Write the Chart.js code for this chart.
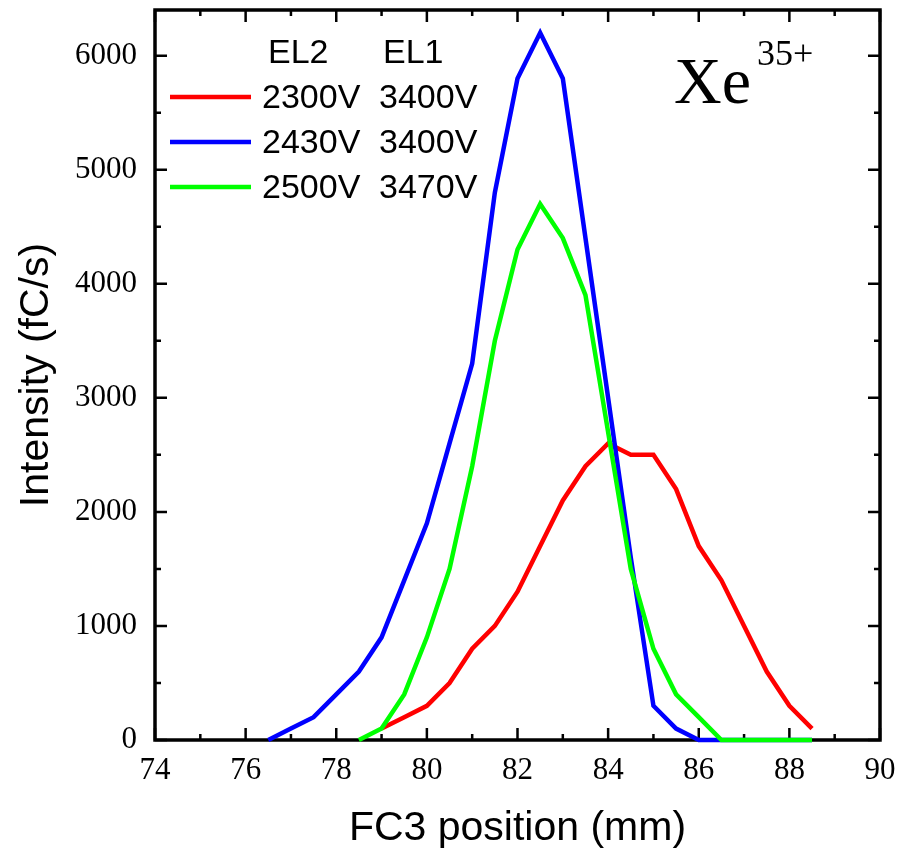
<!DOCTYPE html>
<html>
<head>
<meta charset="utf-8">
<script src="https://cdn.jsdelivr.net/npm/chart.js@4.4.1/dist/chart.umd.min.js"></script>
<style>
  html, body { margin: 0; padding: 0; background: #fff; }
</style>
</head>
<body>
<canvas id="scanChart" width="903" height="854"></canvas>
<script>
// FC3 position (mm) / intensity (fC/s)
const redX   = [79, 79.5, 80, 80.5, 81, 81.5, 82, 82.5, 83, 83.5, 84, 84.5, 85, 85.5, 86, 86.5, 87, 87.5, 88, 88.5];
const redY   = [100, 200, 300, 500, 800, 1000, 1300, 1700, 2100, 2400, 2600, 2500, 2500, 2200, 1700, 1400, 1000, 600, 300, 100];

const blueX  = [76.5, 77, 77.5, 78, 78.5, 79, 79.5, 80, 80.5, 81, 81.5, 82, 82.5, 83, 83.5, 84, 84.5, 85, 85.5, 86, 86.5, 87, 87.5, 88, 88.5];
const blueY  = [0, 100, 200, 400, 600, 900, 1400, 1900, 2600, 3300, 4800, 5800, 6200, 5800, 4400, 3000, 1600, 300, 100, 0, 0, 0, 0, 0, 0];

const greenX = [78.5, 79, 79.5, 80, 80.5, 81, 81.5, 82, 82.5, 83, 83.5, 84, 84.5, 85, 85.5, 86, 86.5, 87, 87.5, 88, 88.5];
const greenY = [0, 100, 400, 900, 1500, 2400, 3500, 4300, 4700, 4400, 3900, 2700, 1500, 800, 400, 200, 0, 0, 0, 0, 0];

const el2Labels = ['2300V', '2430V', '2500V'];
const el1Labels = ['3400V', '3400V', '3470V'];
const legendHeader = ['EL2', 'EL1'];

const xTicks = [74, 76, 78, 80, 82, 84, 86, 88, 90];
const yTicks = [0, 1000, 2000, 3000, 4000, 5000, 6000];
const xMin = 74, xMax = 90;
const yMin = 0, yMax = 6400;

function toPoints(xs, ys) {
    return xs.map((x, i) => ({ x: x, y: ys[i] }));
}

// frame + inward ticks on all four sides (minor ticks halfway between majors)
const framePlugin = {
    id: 'frame',
    beforeDatasetsDraw(chart) {
        const { ctx, chartArea: a, scales: { x, y } } = chart;
        ctx.save();
        ctx.strokeStyle = '#000';
        ctx.lineWidth = 2.5;
        ctx.beginPath();
        xTicks.forEach((v, i) => {
            const marks = [[v, 12]];
            if (i < xTicks.length - 1) marks.push([(v + xTicks[i + 1]) / 2, 6]);
            marks.forEach(([val, len]) => {
                const px = x.getPixelForValue(val);
                ctx.moveTo(px, a.bottom); ctx.lineTo(px, a.bottom - len);
                ctx.moveTo(px, a.top); ctx.lineTo(px, a.top + len);
            });
        });
        yTicks.forEach((v) => {
            [[v, 12], [v + 500, 6]].forEach(([val, len]) => {
                if (val > yMax) return;
                const py = y.getPixelForValue(val);
                ctx.moveTo(a.left, py); ctx.lineTo(a.left + len, py);
                ctx.moveTo(a.right, py); ctx.lineTo(a.right - len, py);
            });
        });
        ctx.stroke();
        ctx.lineWidth = 3.5;
        ctx.strokeRect(a.left, a.top, a.right - a.left, a.bottom - a.top);
        ctx.restore();
    }
};

// two-column legend and the ion label
const notesPlugin = {
    id: 'notes',
    afterDraw(chart) {
        const ctx = chart.ctx;
        ctx.save();
        ctx.fillStyle = '#000';
        ctx.textBaseline = 'alphabetic';
        ctx.font = '34px "Liberation Sans", Arial, sans-serif';
        ctx.fillText(legendHeader[0], 268, 63);
        ctx.fillText(legendHeader[1], 383, 63);
        chart.data.datasets.forEach((ds, i) => {
            const base = 108 + i * 45;
            ctx.strokeStyle = ds.borderColor;
            ctx.lineWidth = 4.5;
            ctx.beginPath();
            ctx.moveTo(170, base - 11);
            ctx.lineTo(251, base - 11);
            ctx.stroke();
            ctx.fillText(el2Labels[i], 262, base);
            ctx.fillText(el1Labels[i], 379, base);
        });
        ctx.font = '66px "Liberation Serif", "Times New Roman", serif';
        ctx.fillText('Xe', 674, 103);
        ctx.font = '36px "Liberation Serif", "Times New Roman", serif';
        ctx.fillText('35+', 757, 65);
        ctx.restore();
    }
};

const tickFont = { family: '"Liberation Serif", "Times New Roman", serif', size: 31 };
const titleFont = { family: '"Liberation Sans", Arial, sans-serif', size: 41 };

new Chart(document.getElementById('scanChart'), {
    type: 'line',
    data: {
        datasets: [
            { label: el2Labels[0] + ' ' + el1Labels[0], data: toPoints(redX, redY), borderColor: '#ff0000', order: 3 },
            { label: el2Labels[1] + ' ' + el1Labels[1], data: toPoints(blueX, blueY), borderColor: '#0000ff', order: 2 },
            { label: el2Labels[2] + ' ' + el1Labels[2], data: toPoints(greenX, greenY), borderColor: '#00ff00', order: 1 }
        ]
    },
    options: {
        responsive: false,
        animation: false,
        devicePixelRatio: 1,
        layout: { padding: { left: 0, top: 10, right: 23, bottom: 0 } },
        elements: {
            line: { borderWidth: 4.5, tension: 0, borderJoinStyle: 'miter', fill: false },
            point: { radius: 0 }
        },
        datasets: { line: { clip: false } },
        plugins: { legend: { display: false }, tooltip: { enabled: false } },
        scales: {
            x: {
                type: 'linear',
                min: xMin, max: xMax,
                grid: { display: false, drawTicks: false },
                border: { display: false },
                afterBuildTicks(s) { s.ticks = xTicks.map(v => ({ value: v })); },
                ticks: { color: '#000', font: tickFont, padding: 12, callback: v => String(v) },
                title: { display: true, text: 'FC3 position (mm)', color: '#000', font: titleFont, padding: { top: 0, bottom: 1 } },
                afterFit(s) { s.height = 114; s.paddingLeft = 0; s.paddingRight = 0; }
            },
            y: {
                min: yMin, max: yMax,
                grid: { display: false, drawTicks: false },
                border: { display: false },
                afterBuildTicks(s) { s.ticks = yTicks.map(v => ({ value: v })); },
                ticks: { color: '#000', font: tickFont, padding: 18, callback: v => String(v) },
                title: { display: true, text: 'Intensity (fC/s)', color: '#000', font: titleFont, padding: { top: 12, bottom: 0 } },
                afterFit(s) { s.width = 155; s.paddingTop = 0; s.paddingBottom = 0; }
            }
        }
    },
    plugins: [framePlugin, notesPlugin]
});
</script>
</body>
</html>
